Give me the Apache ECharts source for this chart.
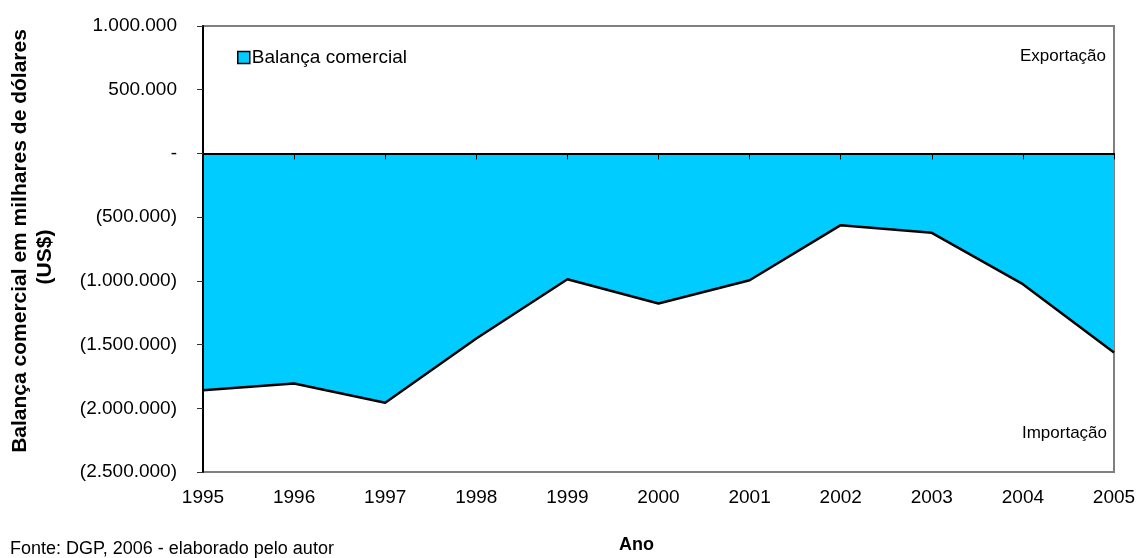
<!DOCTYPE html>
<html><head><meta charset="utf-8">
<script src="https://cdn.jsdelivr.net/npm/echarts@6/dist/echarts.min.js"></script>
<style>html,body{margin:0;padding:0;background:#fff}#c{width:1139px;height:558px}</style>
</head><body><div id="c"></div>
<script>
const years = ['1995','1996','1997','1998','1999','2000','2001','2002','2003','2004','2005'];
const balanca = [-1858000,-1805000,-1957000,-1452000,-987000,-1178000,-995000,-563000,-623000,-1026000,-1562000];
const seriesName = 'Balança comercial';
const yNameLine1 = 'Balança comercial em milhares de dólares';
const yNameLine2 = '(US$)';
const xName = 'Ano';
const source = 'Fonte: DGP, 2006 - elaborado pelo autor';
const topNote = 'Exportação';
const bottomNote = 'Importação';

function fmt(v){
  if (v === 0) return '-';
  const s = Math.abs(v).toString().replace(/\B(?=(\d{3})+(?!\d))/g,'.');
  return v < 0 ? '(' + s + ')' : s;
}
const F = 'Liberation Sans, Arial, sans-serif';
const chart = echarts.init(document.getElementById('c'), null, {renderer:'canvas'});
chart.setOption({
  animation:false,
  textStyle:{fontFamily:F},
  grid:{left:203,right:25,top:26,bottom:86,show:true,borderColor:'#808080',borderWidth:2,backgroundColor:'transparent'},
  legend:{left:232,top:43,icon:'rect',itemWidth:12,itemHeight:12,itemGap:4,
    textStyle:{fontSize:19,color:'#000',fontFamily:F,padding:[0,0,0,-3]},
    data:[{name:seriesName,itemStyle:{color:'#00CCFF',borderColor:'#000',borderWidth:1.5}}]},
  xAxis:[
    {type:'category',data:years,boundaryGap:false,z:10,
     axisLine:{onZero:true,lineStyle:{color:'#000',width:2}},
     axisTick:{show:true,inside:false,length:6,lineStyle:{color:'#000',width:1}},
     axisLabel:{show:false},splitLine:{show:false}},
    {type:'category',data:years,boundaryGap:false,position:'bottom',
     axisLine:{show:false,onZero:false},axisTick:{show:false},
     axisLabel:{show:true,fontSize:19,color:'#000',margin:16,fontFamily:F},splitLine:{show:false}}
  ],
  yAxis:{type:'value',min:-2500000,max:1000000,interval:500000,z:10,
    axisLine:{show:true,lineStyle:{color:'#000',width:2}},
    axisTick:{show:true,length:6,lineStyle:{color:'#333'}},
    axisLabel:{fontSize:19,color:'#000',margin:26,formatter:fmt,fontFamily:F},
    splitLine:{show:false}},
  series:[{name:seriesName,type:'line',data:balanca,xAxisIndex:0,symbol:'none',
    lineStyle:{color:'#000',width:2.5},itemStyle:{color:'#00CCFF'},
    areaStyle:{color:'#00CCFF',opacity:1},z:1}],
  graphic:[
    {type:'text',x:20.5,y:241,rotation:Math.PI/2,style:{text:yNameLine1,font:'bold 21px '+F,fill:'#000',align:'center',verticalAlign:'middle'}},
    {type:'text',x:45.5,y:257,rotation:Math.PI/2,style:{text:yNameLine2,font:'bold 21px '+F,fill:'#000',align:'center',verticalAlign:'middle'}},
    {type:'text',right:33,top:48,style:{text:topNote,font:'17px '+F,fill:'#000'}},
    {type:'text',right:32,top:425,style:{text:bottomNote,font:'17px '+F,fill:'#000'}},
    {type:'text',left:619,top:536,style:{text:xName,font:'bold 18px '+F,fill:'#000'}},
    {type:'text',left:10,top:540,style:{text:source,font:'18px '+F,fill:'#000'}}
  ]
});
</script></body></html>
